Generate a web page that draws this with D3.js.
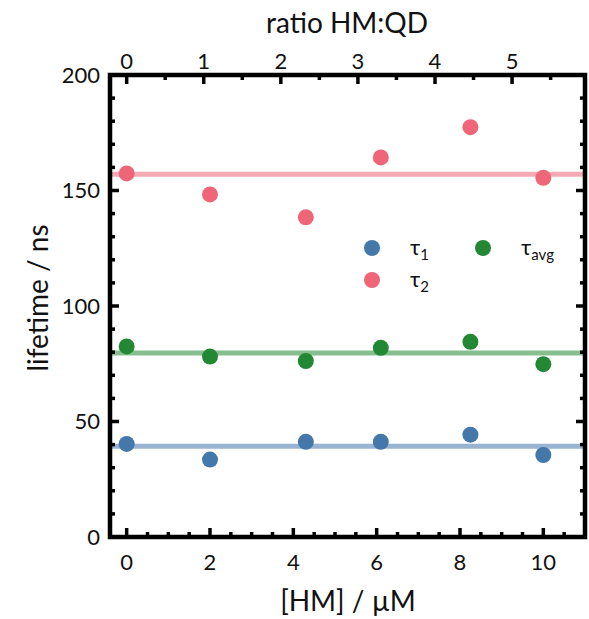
<!DOCTYPE html>
<html>
<head>
<meta charset="utf-8">
<script src="https://cdn.jsdelivr.net/npm/d3@7"></script>
<style>
  html, body { margin: 0; padding: 0; background: #fff; }
  svg text { font-family: Lato, "Open Sans", "DejaVu Sans", sans-serif; fill: #111; }
</style>
</head>
<body>
<svg id="chart" width="589" height="619"></svg>
<script>
// ---- data ----
const concHM = [0, 2, 4.3, 6.1, 8.25, 10];           // [HM] / µM
const tau1   = [40.3, 33.5, 41.2, 41.2, 44.3, 35.5];
const tau2   = [157.4, 148.3, 138.4, 164.3, 177.4, 155.5];
const tauAvg = [82.5, 78.1, 76.2, 81.9, 84.5, 74.8];
const meanTau1 = 39.3, meanTau2 = 157.0, meanTauAvg = 79.7;
const ratioPerUM = 1 / 1.85;                          // ratio HM:QD per µM
const xMajorTicks = [0, 2, 4, 6, 8, 10];
const ratioTicks = [0, 1, 2, 3, 4, 5];
const yMajorTicks = [0, 50, 100, 150, 200];
const seriesNames = ["τ1", "τ2", "τavg"];
const colors = { tau1: "#4477AA", tau2: "#EE6677", tauAvg: "#228833" };

// ---- layout ----
const L = 110, R = 585, T = 75, B = 537;
const svg = d3.select("#chart");

const x = d3.scaleLinear().domain([-0.4, 11]).range([L, R]);
const xTop = d3.scaleLinear().domain([-0.4 * ratioPerUM, 11 * ratioPerUM]).range([L, R]);
const y = d3.scaleLinear().domain([0, 200]).range([B, T]);

// mean lines
const means = [
  { v: meanTau2, c: colors.tau2 },
  { v: meanTauAvg, c: colors.tauAvg },
  { v: meanTau1, c: colors.tau1 }
];
svg.append("g").selectAll("line").data(means).join("line")
  .attr("x1", L).attr("x2", R)
  .attr("y1", d => y(d.v)).attr("y2", d => y(d.v))
  .attr("stroke", d => d.c).attr("stroke-opacity", 0.55).attr("stroke-width", 5);

// ticks (inward)
const tickW = 3.5;
function drawTicks(g, vals, pos, len, orient) {
  g.selectAll(null).data(vals).join("line")
    .attr("stroke", "#000").attr("stroke-width", tickW)
    .attr("x1", d => orient === "left" ? L : orient === "right" ? R : pos(d))
    .attr("x2", d => orient === "left" ? L + len : orient === "right" ? R - len : pos(d))
    .attr("y1", d => orient === "bottom" ? B : orient === "top" ? T : pos(d))
    .attr("y2", d => orient === "bottom" ? B - len : orient === "top" ? T + len : pos(d));
}
const tg = svg.append("g");
const yMinor = d3.range(10, 200, 10).filter(v => v % 50 !== 0);
drawTicks(tg, yMajorTicks, y, 9, "left");
drawTicks(tg, yMinor, y, 5, "left");
drawTicks(tg, yMajorTicks, y, 9, "right");
drawTicks(tg, yMinor, y, 5, "right");
const xMinor = d3.range(0.5, 11, 0.5).filter(v => v % 2 !== 0);
drawTicks(tg, xMajorTicks, x, 9, "bottom");
drawTicks(tg, xMinor, x, 5, "bottom");
const rMinor = [0.5, 1.5, 2.5, 3.5, 4.5, 5.5];
drawTicks(tg, ratioTicks, xTop, 9, "top");
drawTicks(tg, rMinor, xTop, 5, "top");

// frame
svg.append("rect").attr("x", L).attr("y", T).attr("width", R - L).attr("height", B - T)
  .attr("fill", "none").attr("stroke", "#000").attr("stroke-width", 4.5);

// tick labels
svg.append("g").selectAll("text").data(yMajorTicks).join("text")
  .attr("x", L - 10).attr("y", d => y(d)).attr("dy", "0.36em")
  .attr("text-anchor", "end").attr("font-size", 22).text(d => d);
svg.append("g").selectAll("text").data(xMajorTicks).join("text")
  .attr("x", d => x(d)).attr("y", 570)
  .attr("text-anchor", "middle").attr("font-size", 22).text(d => d);
svg.append("g").selectAll("text").data(ratioTicks).join("text")
  .attr("x", d => xTop(d)).attr("y", 69)
  .attr("text-anchor", "middle").attr("font-size", 22).text(d => d);

// axis titles
svg.append("text").attr("x", 348).attr("y", 611).attr("text-anchor", "middle")
  .attr("font-size", 28).text("[HM] / µM");
svg.append("text").attr("x", 347).attr("y", 33).attr("text-anchor", "middle")
  .attr("font-size", 28).text("ratio HM:QD");
svg.append("text").attr("transform", "translate(48,298) rotate(-90)").attr("text-anchor", "middle")
  .attr("font-size", 28).text("lifetime / ns");

// points
const series = [
  { vals: tau2, c: colors.tau2 },
  { vals: tauAvg, c: colors.tauAvg },
  { vals: tau1, c: colors.tau1 }
];
series.forEach(s => {
  svg.append("g").selectAll("circle").data(s.vals).join("circle")
    .attr("cx", (d, i) => x(concHM[i])).attr("cy", d => y(d))
    .attr("r", 8).attr("fill", s.c);
});

// legend
const legend = [
  { name: seriesNames[0], c: colors.tau1, cx: 372, cy: 248, sub: "1" },
  { name: seriesNames[1], c: colors.tau2, cx: 372, cy: 280, sub: "2" },
  { name: seriesNames[2], c: colors.tauAvg, cx: 483, cy: 248, sub: "avg" }
];
const lg = svg.append("g");
legend.forEach(d => {
  lg.append("circle").attr("cx", d.cx).attr("cy", d.cy).attr("r", 8).attr("fill", d.c);
  const t = lg.append("text").attr("x", d.cx + 38).attr("y", d.cy + 7)
    .attr("font-size", 22);
  t.append("tspan").text(d.name.charAt(0));
  t.append("tspan").attr("font-size", 15).attr("dy", 5).text(d.sub);
});
</script>
</body>
</html>
